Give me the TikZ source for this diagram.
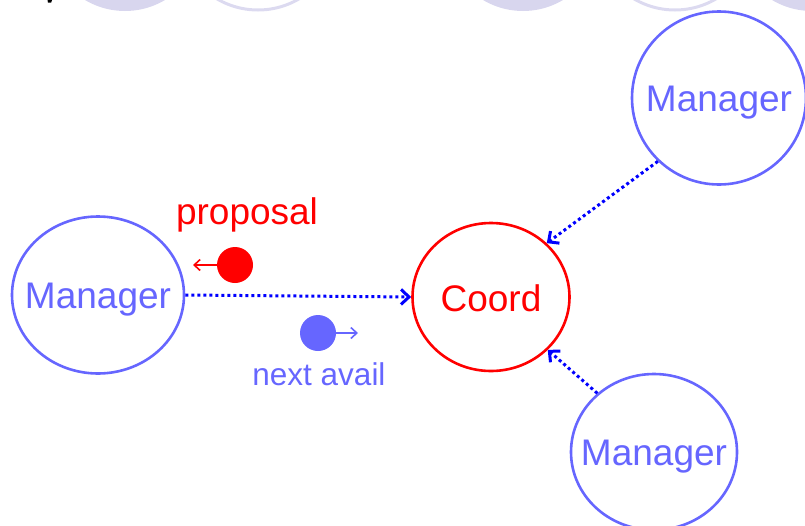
\documentclass[tikz,border=0pt]{standalone}
\usepackage{fontspec}
\setmainfont{Liberation Sans}
\usetikzlibrary{shapes.geometric,arrows.meta}

\definecolor{mgrblue}{HTML}{6666FF}
\definecolor{lineblue}{HTML}{0000FF}
\definecolor{coordred}{HTML}{FF0000}
\definecolor{lavfill}{HTML}{D8D6EE}
\definecolor{lavline}{HTML}{DCDAF0}

% zero-width text box so the ellipse keeps its given size
\newcommand{\ctext}[1]{\makebox[0pt]{\raisebox{-2.5pt}{#1}}}

\tikzset{
  bigfont/.style={font=\fontsize{37}{44}\selectfont},
  manager/.style={ellipse, draw=mgrblue, line width=2.6pt, text=mgrblue,
    bigfont, inner sep=0pt, text depth=0pt},
  coordnode/.style={ellipse, draw=coordred, line width=2.6pt, text=coordred,
    bigfont, inner sep=0pt, text depth=0pt},
  msgline/.style={lineblue, line width=3pt, dash pattern=on 3pt off 3pt,
    -{Straight Barb[length=8pt,width=15pt,line width=3pt]}},
  token/.style={circle, minimum size=36pt, inner sep=0pt},
  tokenarrow/.style={line width=1.6pt,
    -{Straight Barb[length=6pt,width=11pt,line width=1.6pt]}},
  topfilled/.style={fill=lavfill},
  topring/.style={draw=lavline, line width=3pt},
}

\begin{document}
\begin{tikzpicture}[x=1pt,y=-1pt]
\useasboundingbox (0,0) rectangle (805,525);

% row of shapes running off the upper edge
\fill[topfilled] (125,-67) circle [radius=78];
\draw[topring] (258,-71) circle [radius=81];
\fill[topfilled] (523,-67) circle [radius=78];
\draw[topring] (675,-71) circle [radius=81];
\fill[topfilled] (812,-67) circle [radius=78];
\fill[black] (47.5,0) -- (52,0) -- (51.2,2.6) -- (48,2.6) -- cycle;

% participants
\node[manager, minimum width=172pt, minimum height=157pt] (left) at (98,295) {\ctext{Manager}};
\node[coordnode, minimum width=157pt, minimum height=148pt] (coord) at (491,297) {\ctext{Coord}};
\node[manager, minimum width=174pt, minimum height=173pt] (topright) at (719,98) {\ctext{Manager}};
\node[manager, minimum width=166pt, minimum height=156pt] (botright) at (654,452) {\ctext{Manager}};

% messages towards the coordinator
\draw[msgline] (left.east) -- (coord.west);
\draw[msgline] (topright.-134) -- (coord.44);
\draw[msgline] (botright.134) -- (coord.-43);

% tokens travelling along the left channel
\node[token, fill=coordred] (prop) at (235,265) {};
\coordinate (propend) at (193,265);
\draw[tokenarrow, coordred] (prop.west) -- (propend);
\node[coordred, bigfont] (proplabel) at (247,215) {proposal};

\node[token, fill=mgrblue] (avail) at (318,333) {};
\coordinate (availend) at (358,333);
\draw[tokenarrow, mgrblue] (avail.east) -- (availend);
\node[mgrblue, font=\fontsize{31.5}{38}\selectfont, anchor=base] (availlabel) at (319,385) {next avail};

\end{tikzpicture}
\end{document}
